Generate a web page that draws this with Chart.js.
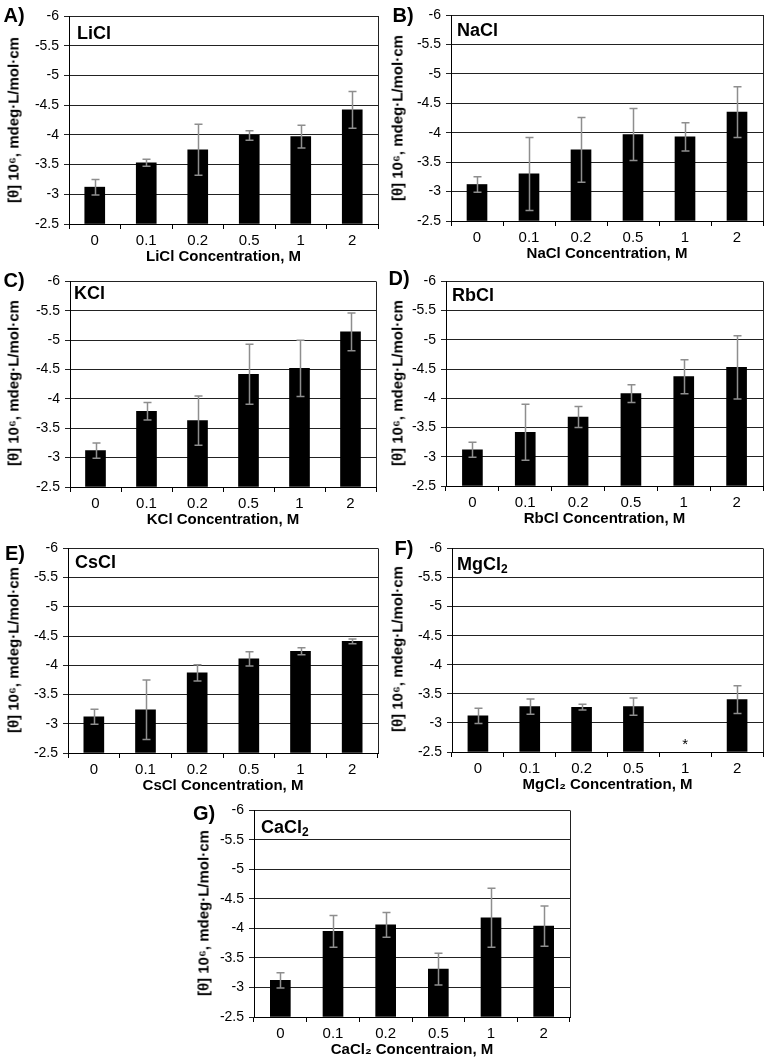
<!DOCTYPE html>
<html>
<head>
<meta charset="utf-8">
<script src="https://cdn.jsdelivr.net/npm/chart.js@4.4.1/dist/chart.umd.min.js"></script>
<style>
  html, body { margin:0; padding:0; background:#fff; }
  #wrap { position:relative; width:768px; height:1063px; overflow:hidden; font-family:'Liberation Sans', Arial, sans-serif; color:#000; }
  .panel { position:absolute; }
  .letter { position:absolute; font-weight:700; font-size:20px; transform:translate(-50%,-50%); white-space:nowrap; }
  .name { position:absolute; font-weight:700; font-size:18px; transform:translateY(-50%); white-space:nowrap; }
  .name sub { font-size:12px; vertical-align:-3px; line-height:0; }
  .ytitle { position:absolute; font-weight:700; font-size:15px; white-space:nowrap; transform:translate(-50%,-50%) rotate(-90deg); }
</style>
</head>
<body>
<div id="wrap"></div>
<script>
// ============ DATA ============
const concLabels = ['0', '0.1', '0.2', '0.5', '1', '2'];
const Y_MIN = -6, Y_MAX = -2.5, Y_STEP = 0.5;

const liclMean = [-3.12, -3.53, -3.75, -3.99, -3.97, -4.42];
const liclErr  = [0.13, 0.06, 0.43, 0.08, 0.19, 0.31];

const naclMean = [-3.12, -3.30, -3.71, -3.97, -3.93, -4.35];
const naclErr  = [0.13, 0.62, 0.55, 0.44, 0.24, 0.43];

const kclMean = [-3.12, -3.79, -3.63, -4.42, -4.52, -5.14];
const kclErr  = [0.13, 0.15, 0.42, 0.51, 0.48, 0.32];

const rbclMean = [-3.12, -3.42, -3.68, -4.08, -4.37, -4.53];
const rbclErr  = [0.13, 0.48, 0.18, 0.15, 0.29, 0.54];

const csclMean = [-3.12, -3.24, -3.87, -4.11, -4.24, -4.41];
const csclErr  = [0.13, 0.51, 0.14, 0.12, 0.06, 0.04];

const mgcl2Mean  = [-3.12, -3.28, -3.27, -3.28, null, -3.40];
const mgcl2Err   = [0.13, 0.13, 0.05, 0.15, null, 0.24];
const mgcl2Notes = ['', '', '', '', '*', ''];

const cacl2Mean = [-3.12, -3.95, -4.06, -3.31, -4.18, -4.04];
const cacl2Err  = [0.13, 0.27, 0.21, 0.27, 0.50, 0.34];

const yTitle = '[θ] 10⁶, mdeg·L/mol·cm';

// ============ LAYOUT ============
// canvas box + plot area edges (L,R,T,B) in page pixels
const panels = [
  { letter:'A)', name:'LiCl',  nameHtml:'LiCl', xTitle:'LiCl Concentration, M', mean:liclMean, err:liclErr,
    cx:0,   cy:0,   cw:384, L:69,  R:378, T:16,  B:224, lx:14,  ly:15,  nx:77,  ny:33 },
  { letter:'B)', name:'NaCl',  nameHtml:'NaCl', xTitle:'NaCl Concentration, M', mean:naclMean, err:naclErr,
    cx:384, cy:0,   cw:384, L:451, R:763, T:15,  B:221, lx:403, ly:15,  nx:457, ny:30 },
  { letter:'C)', name:'KCl',   nameHtml:'KCl', xTitle:'KCl Concentration, M', mean:kclMean, err:kclErr,
    cx:0,   cy:268, cw:384, L:70,  R:376, T:279, B:487, lx:14,  ly:280, nx:74,  ny:293 },
  { letter:'D)', name:'RbCl',  nameHtml:'RbCl', xTitle:'RbCl Concentration, M', mean:rbclMean, err:rbclErr,
    cx:384, cy:268, cw:384, L:446, R:763, T:279, B:486, lx:399, ly:278, nx:452, ny:295 },
  { letter:'E)', name:'CsCl',  nameHtml:'CsCl', xTitle:'CsCl Concentration, M', mean:csclMean, err:csclErr,
    cx:0,   cy:535, cw:384, L:68,  R:378, T:546, B:753, lx:15,  ly:553, nx:75,  ny:562 },
  { letter:'F)', name:'MgCl2', nameHtml:'MgCl<sub>2</sub>', xTitle:'MgCl₂ Concentration, M', mean:mgcl2Mean, err:mgcl2Err, notes:mgcl2Notes,
    cx:384, cy:535, cw:384, L:452, R:763, T:546, B:752, lx:404, ly:548, nx:457, ny:564 },
  { letter:'G)', name:'CaCl2', nameHtml:'CaCl<sub>2</sub>', xTitle:'CaCl₂ Concentraion, M', mean:cacl2Mean, err:cacl2Err,
    cx:190, cy:797, cw:384, L:254, R:570, T:808, B:1017, lx:204, ly:813, nx:261, ny:827 }
];

const FONT = "'Liberation Sans', Arial, sans-serif";
const XH = 44;

// error bars, plot frame and note marks
const extrasPlugin = {
  id: 'extras',
  afterDatasetsDraw(chart) {
    const ctx = chart.ctx, ca = chart.chartArea, y = chart.scales.y;
    ctx.save();
    // right frame line
    ctx.strokeStyle = '#222'; ctx.lineWidth = 1;
    ctx.beginPath(); ctx.moveTo(Math.round(ca.right) + 0.5, ca.top); ctx.lineTo(Math.round(ca.right) + 0.5, ca.bottom); ctx.stroke();
    chart.data.datasets.forEach((ds, di) => {
      const meta = chart.getDatasetMeta(di);
      meta.data.forEach((bar, i) => {
        const v = ds.data[i], e = ds.errors ? ds.errors[i] : null;
        if (v == null || e == null) return;
        const x = Math.round(bar.x) + 0.5;
        const y1 = y.getPixelForValue(v - e), y2 = y.getPixelForValue(v + e);
        ctx.strokeStyle = '#8e8e8e'; ctx.lineWidth = 1.5;
        ctx.beginPath();
        ctx.moveTo(x, y1); ctx.lineTo(x, y2);
        ctx.moveTo(x - 4, y1); ctx.lineTo(x + 4, y1);
        ctx.moveTo(x - 4, y2); ctx.lineTo(x + 4, y2);
        ctx.stroke();
      });
      if (ds.notes) {
        ctx.fillStyle = '#000'; ctx.font = '15px ' + FONT;
        ctx.textAlign = 'center'; ctx.textBaseline = 'middle';
        ds.notes.forEach((n, i) => {
          if (!n) return;
          ctx.fillText(n, chart.scales.x.getPixelForValue(i), ca.bottom - 7);
        });
      }
    });
    ctx.restore();
  }
};

const wrap = document.getElementById('wrap');

panels.forEach(p => {
  const ch = p.B - p.cy + XH;
  const box = document.createElement('div');
  box.className = 'panel';
  box.style.cssText = `left:${p.cx}px;top:${p.cy}px;width:${p.cw}px;height:${ch}px`;
  const cv = document.createElement('canvas');
  cv.width = p.cw; cv.height = ch;
  cv.style.width = p.cw + 'px'; cv.style.height = ch + 'px';
  box.appendChild(cv);
  wrap.appendChild(box);

  const yw = p.L - p.cx;
  new Chart(cv, {
    type: 'bar',
    data: {
      labels: concLabels,
      datasets: [{
        label: p.name,
        data: p.mean,
        errors: p.err,
        notes: p.notes,
        base: Y_MAX,
        backgroundColor: '#000',
        borderWidth: 0,
        barThickness: 20
      }]
    },
    options: {
      responsive: false,
      animation: false,
      devicePixelRatio: 1,
      layout: { padding: { left: 0, top: p.T - p.cy, right: p.cx + p.cw - p.R, bottom: 0 } },
      plugins: { legend: { display: false }, tooltip: { enabled: false } },
      scales: {
        x: {
          offset: true,
          afterFit: s => { s.height = XH; },
          grid: { display: true, offset: true, drawOnChartArea: false, drawTicks: true, tickLength: 5, color: '#000', lineWidth: 1 },
          border: { display: true, color: '#000', width: 1 },
          ticks: { color: '#000', font: { family: FONT, size: 15 }, padding: 3, maxRotation: 0 },
          title: { display: true, text: p.xTitle, color: '#000', font: { family: FONT, size: 15, weight: 'bold' }, padding: { top: 0, bottom: 2 } }
        },
        y: {
          reverse: true,
          min: Y_MIN, max: Y_MAX,
          afterFit: s => { s.width = yw; },
          grid: { color: '#222', lineWidth: 1, drawTicks: true, tickLength: 5 },
          border: { display: true, color: '#000', width: 1 },
          ticks: { stepSize: Y_STEP, color: '#000', font: { family: FONT, size: 14 }, padding: 5, callback: v => String(v) }
        }
      }
    },
    plugins: [extrasPlugin]
  });

  const lt = document.createElement('div');
  lt.className = 'letter'; lt.textContent = p.letter;
  lt.style.left = p.lx + 'px'; lt.style.top = p.ly + 'px';
  wrap.appendChild(lt);

  const nm = document.createElement('div');
  nm.className = 'name'; nm.innerHTML = p.nameHtml;
  nm.style.left = p.nx + 'px'; nm.style.top = p.ny + 'px';
  wrap.appendChild(nm);

  const yt = document.createElement('div');
  yt.className = 'ytitle'; yt.textContent = yTitle;
  yt.style.left = (p.cx + 13) + 'px'; yt.style.top = ((p.T + p.B) / 2) + 'px';
  wrap.appendChild(yt);
});
</script>
</body>
</html>
